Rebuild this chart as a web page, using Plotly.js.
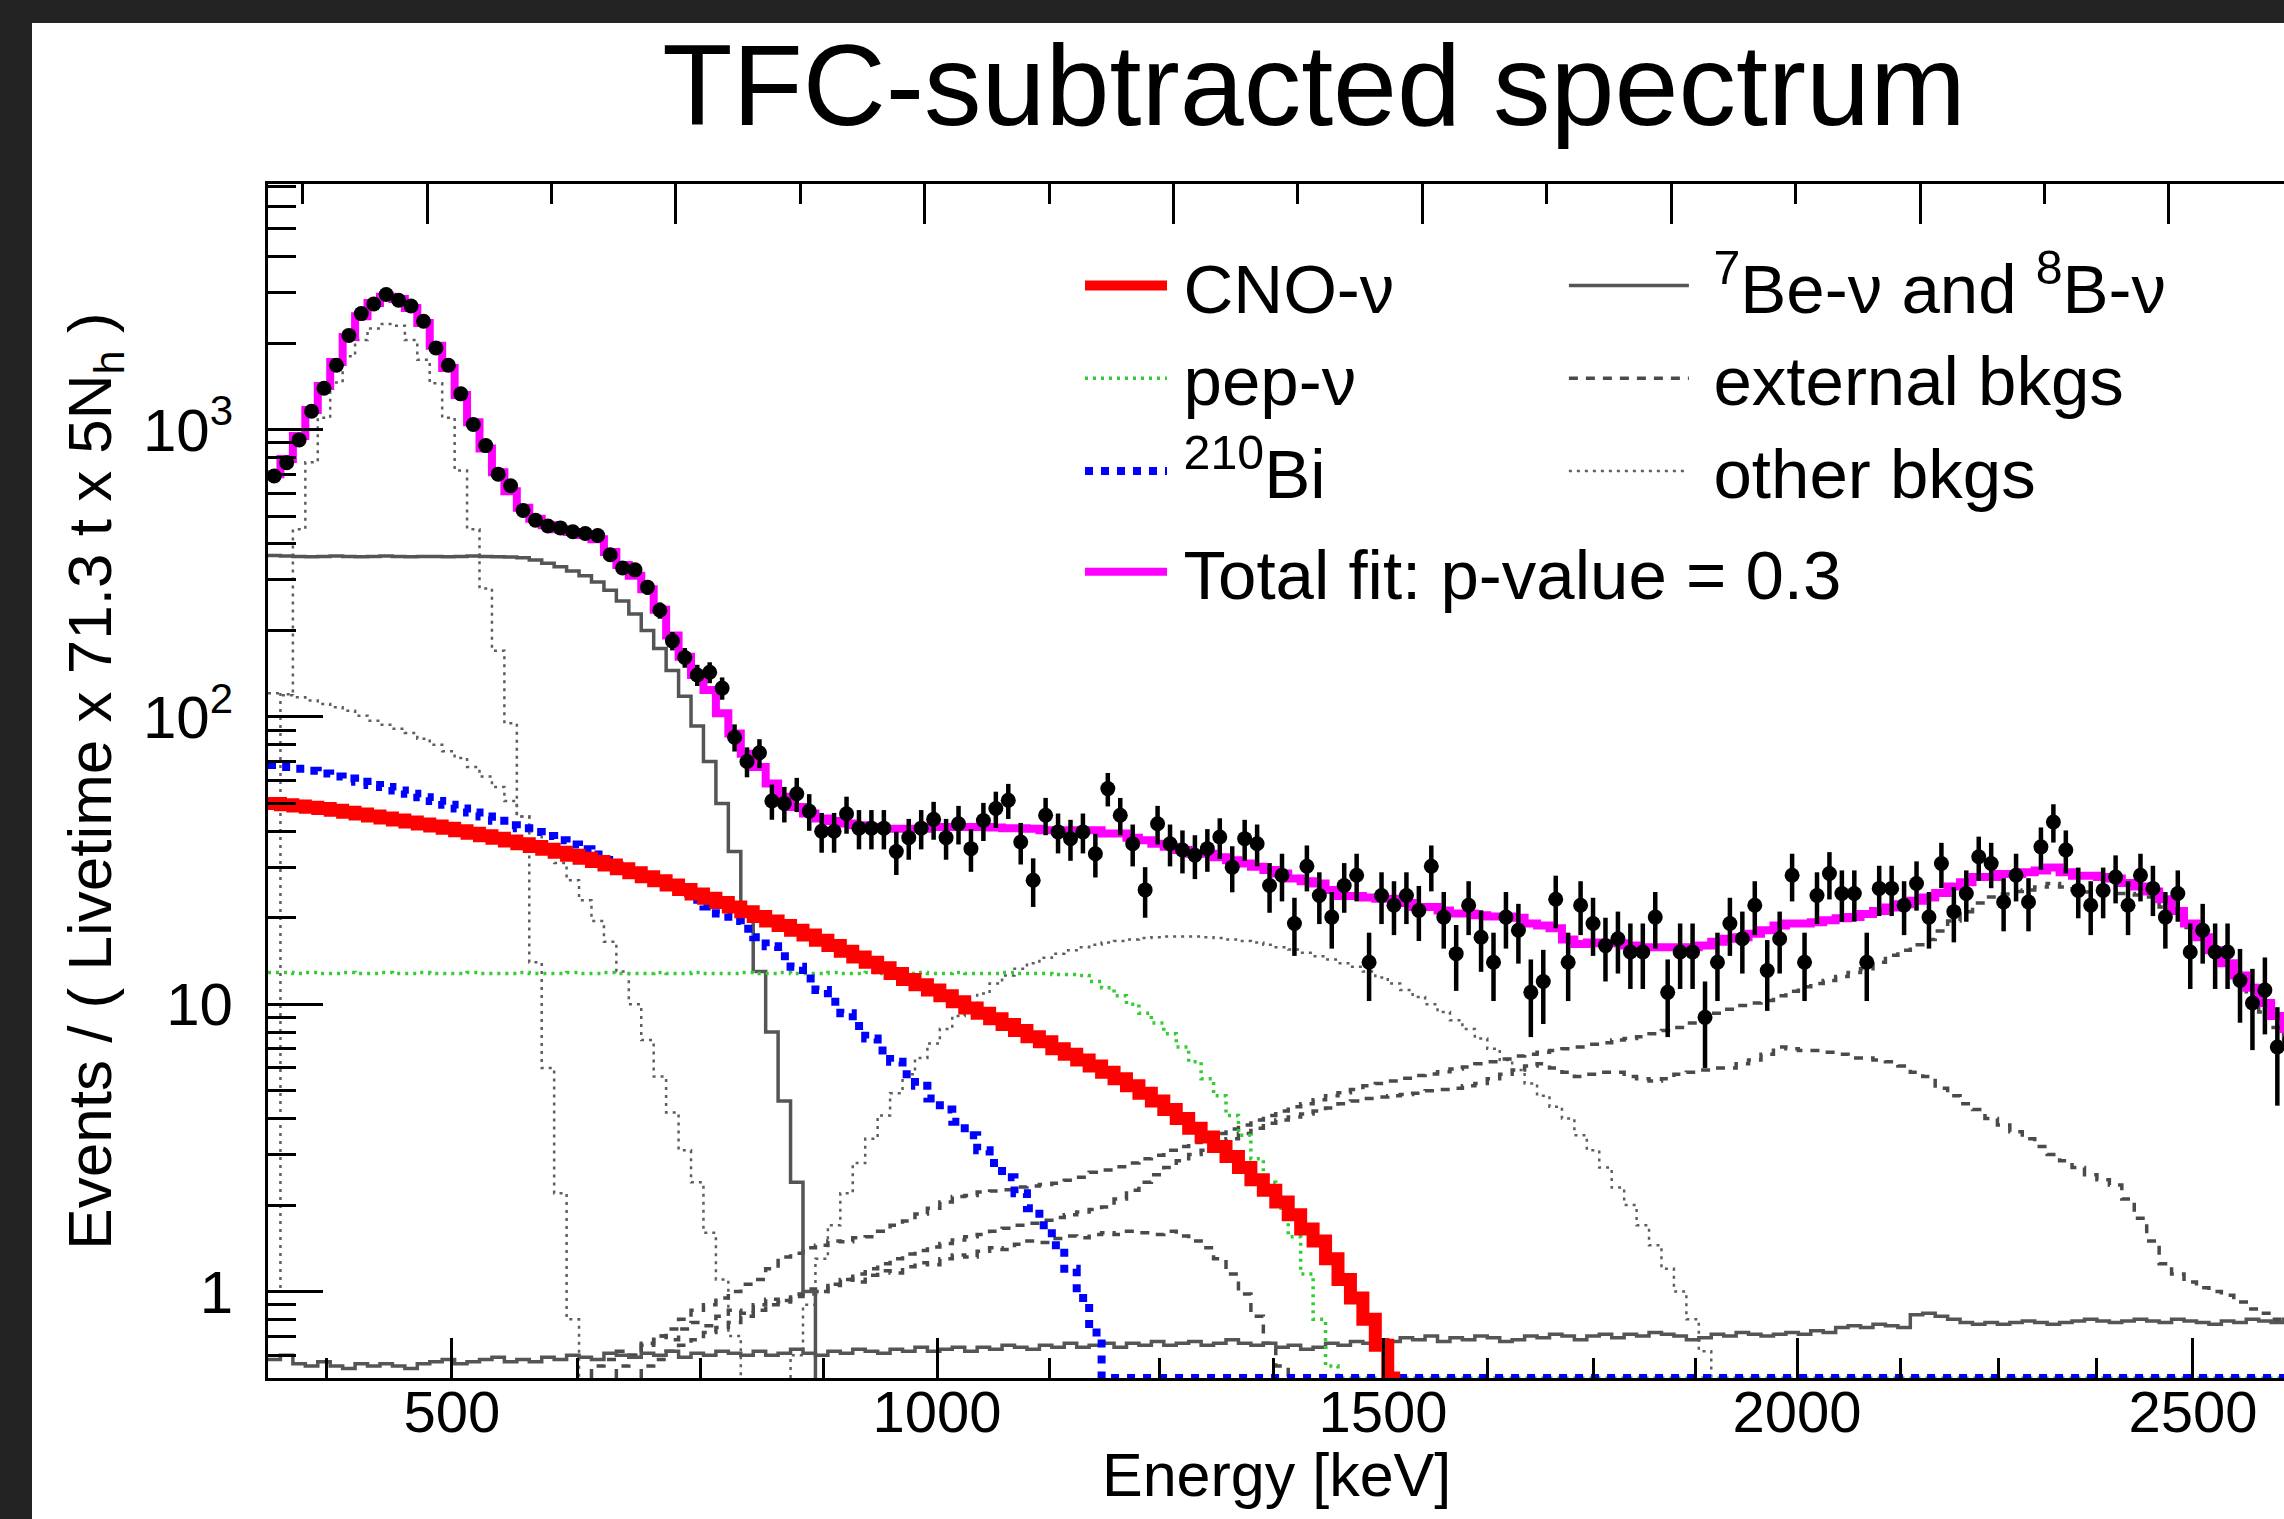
<!DOCTYPE html>
<html>
<head>
<meta charset="utf-8">
<script src="https://cdn.plot.ly/plotly-3.0.1.min.js"></script>
<style>
html,body{margin:0;padding:0;background:#232323;overflow:hidden;width:2284px;height:1519px;}
#panel{position:absolute;left:32px;top:23px;width:2288px;height:1496px;background:#ffffff;}
#chart{position:absolute;left:32px;top:0px;width:2288px;height:1519px;}
</style>
</head>
<body>
<div id="panel"></div>
<div id="chart"></div>
<script>
// ---------------- binning (Nh = number of hits, 5 Nh per bin) ----------------
const nhStart = 92;
const nhBinWidth = 5;
const nBins = 163;

// ---------------- energy axis (non-linear in Nh) ----------------
const energyTickLabels = ['500', '1000', '1500', '2000', '2500'];
const energyTickNh = [165.9, 360.9, 540.1, 706.5, 865.6];
const energyMinorNh = [115.7, 216.2, 266.0, 315.4, 405.9, 450.1, 495.9, 581.9, 624.5, 665.5, 747.9, 787.3, 827.0, 904.2];
const xTitle = 'Energy [keV]';

// ---------------- y axis ----------------
const yTickVals = [1, 10, 100, 1000];
const yTickText = ['1', '10', '10<sup>2</sup>', '10<sup>3</sup>'];
const yTitle = 'Events / ( Livetime x 71.3 t x 5N<sub>h</sub> )';

// ---------------- data (events per bin) ----------------
const dataCounts = [
 690, 767, 921, 1159, 1394, 1675, 2128, 2535, 2737, 2955,
 2820, 2694, 2385, 1923, 1675, 1332, 1042, 880, 700, 638,
 523, 484, 462, 455, 441, 435, 428, 367, 330, 325,
 283, 235, 184, 161, 140, 143, 126, 85, 70, 75,
 51, 50, 54, 47, 40, 40, 46, 41, 41, 41,
 34, 38, 41, 44, 38, 42.5, 34.8, 43.6, 48, 51.3,
 36.7, 27, 45.5, 39.8, 37.7, 39.8, 33.4, 56.3, 45.5, 36.2,
 25, 42.5, 36.2, 34.4, 33, 34.8, 38.2, 30, 37.7, 36.2,
 25.9, 28.1, 19.1, 30.2, 23.9, 20.1, 25.9, 28.1, 14, 23.9,
 22.1, 23.9, 21.2, 30.2, 20.1, 15, 22.1, 17.1, 14, 20.1,
 18.1, 11, 12, 23.2, 14, 22.1, 19.1, 16, 16.9, 15.2,
 15.2, 20.1, 11, 15.2, 15.2, 9, 14, 19.1, 16.9, 22.1,
 13.1, 16.9, 28.1, 14, 23.9, 28.5, 24.3, 24.3, 14, 25.3,
 25.3, 22.1, 26.3, 20.1, 30.9, 21, 24.3, 32.6, 30.9, 22.7,
 28.1, 22.7, 35.3, 43.1, 34.4, 24.9, 22.1, 24.9, 27.7, 22.1,
 28.1, 25.3, 20.1, 24.3, 15.2, 18.1, 15.2, 15.2, 12.1, 10.1,
 11.2, 7.1, 7.5
];

const totalFit = [
 700, 790, 950, 1170, 1420, 1720, 2100, 2480, 2760, 2900,
 2850, 2650, 2350, 1960, 1640, 1320, 1060, 860, 710, 610,
 535, 490, 465, 450, 440, 430, 415, 375, 338, 310,
 278, 236, 192, 162, 140, 124, 103, 87.5, 74.5, 67,
 58.6, 52.7, 48.6, 46.1, 44.3, 43.4, 42.6, 42, 41.4, 40.8,
 40.8, 40.8, 40.8, 41.4, 41.4, 41.4, 41.4, 41.4, 41.2, 41,
 41, 40.8, 40.3, 40.3, 40.3, 40.3, 40.3, 39.3, 39.3, 38,
 37.2, 36.2, 35.3, 34.4, 33.4, 33.4, 32.5, 31.7, 30.9, 30.1,
 29.3, 28.5, 27.4, 26.8, 26.3, 25, 23.8, 23.8, 23.5, 23.3,
 23.3, 22.5, 21.8, 21.8, 21.2, 20.7, 20.7, 20.4, 20.2, 20.2,
 20, 19.1, 18.8, 18.4, 16.8, 16.2, 16.4, 16.3, 16.3, 16,
 15.8, 15.8, 15.8, 15.8, 15.8, 16, 16.5, 16.9, 17.1, 17.6,
 18.1, 18.8, 19.1, 19.1, 19.3, 19.6, 19.9, 20.1, 20.6, 21.1,
 21.7, 22.3, 22.9, 23.5, 24.4, 25.7, 26.6, 27.7, 27.7, 28.4,
 28.4, 28.8, 29.2, 29.9, 28.8, 28, 28, 27.7, 27.4, 26.4,
 25.7, 24.7, 23.2, 21.1, 19.1, 17.1, 15.4, 13.9, 12.6, 11.4,
 10.1, 9.1, 8.2
];

// CNO-nu, bins 0..90
const cnoNu = [
 50, 49.5, 49, 48.5, 48, 47.3, 46.6, 45.9, 45.2, 44.5,
 43.8, 43.1, 42.4, 41.7, 41, 40.2, 39.4, 38.6, 37.8, 37,
 36.2, 35.4, 34.6, 33.8, 33, 32.2, 31.4, 30.5, 29.6, 28.7,
 27.8, 26.9, 26, 25.1, 24.2, 23.4, 22.6, 21.8, 21, 20.2,
 19.5, 18.8, 18.1, 17.4, 16.7, 16, 15.3, 14.6, 14, 13.4,
 12.8, 12.2, 11.7, 11.2, 10.7, 10.2, 9.7, 9.3, 8.9, 8.5,
 8.1, 7.7, 7.4, 7, 6.7, 6.4, 6.1, 5.8, 5.5, 5.2,
 4.9, 4.6, 4.3, 4, 3.7, 3.45, 3.2, 2.95, 2.7, 2.45,
 2.25, 2.05, 1.85, 1.65, 1.5, 1.3, 1.1, 0.95, 0.8, 0.65,
 0.5
];

// pep-nu, bins 0..85
const pepNu = [
 12.9, 12.9, 12.8, 12.9, 12.8, 12.8, 12.9, 12.8, 12.8, 12.9,
 12.8, 12.8, 12.9, 12.8, 12.8, 12.8, 12.9, 12.8, 12.8, 12.8,
 12.9, 12.8, 12.8, 12.8, 12.9, 12.8, 12.8, 12.9, 12.8, 12.8,
 12.8, 12.9, 12.8, 12.8, 12.9, 12.8, 12.8, 12.8, 12.9, 12.8,
 12.8, 12.9, 12.8, 12.8, 12.8, 12.9, 12.8, 12.8, 12.9, 12.8,
 12.8, 12.8, 12.9, 12.8, 12.8, 12.9, 12.8, 12.8, 12.8, 12.9,
 12.8, 12.8, 12.8, 12.7, 12.7, 12.6, 12.0, 11.4, 10.7, 10.0,
 9.3, 8.6, 7.9, 7.1, 6.3, 5.5, 4.8, 4.1, 3.5, 2.9,
 2.4, 1.95, 1.55, 1.15, 0.8, 0.55
];

// 210Bi, bins 0..67
const bi210 = [
 68, 67, 66, 65, 63.5, 62, 61, 59.5, 58, 57,
 55.5, 54, 52.5, 51, 49.5, 48, 46.5, 45, 43.5, 42,
 41, 39.8, 38.5, 37.2, 36, 34.6, 33.2, 31.8, 30.4, 29.3,
 28.3, 27, 25.7, 24.4, 23.1, 21.9, 20.7, 19.5, 18.3, 17.1,
 15.9, 14.7, 13.5, 12.3, 11.2, 10.2, 9.3, 8.4, 7.6, 6.9,
 6.3, 5.7, 5.2, 4.7, 4.3, 3.9, 3.5, 3.1, 2.8, 2.5,
 2.2, 1.95, 1.7, 1.45, 1.2, 0.95, 0.72, 0.5
];

// 7Be-nu, bins 0..43
const be7Nu = [
 365, 363, 362, 361, 362, 363, 362, 361, 362, 363,
 362, 361, 362, 362, 361, 362, 363, 362, 361, 360,
 358, 352, 343, 333, 322, 310, 295, 276, 253, 228,
 200, 173, 145, 118, 93, 70, 50, 34, 21, 13,
 8, 4.6, 2.4, 1.0
];

// 8B-nu, bins 0..162
const b8Nu = [
 0.58, 0.60, 0.56, 0.55, 0.57, 0.55, 0.54, 0.56, 0.55, 0.56,
 0.55, 0.54, 0.56, 0.57, 0.58, 0.56, 0.57, 0.58, 0.59, 0.57,
 0.58, 0.57, 0.59, 0.58, 0.60, 0.59, 0.58, 0.61, 0.60, 0.59,
 0.61, 0.60, 0.62, 0.59, 0.61, 0.60, 0.62, 0.61, 0.60, 0.62,
 0.60, 0.61, 0.63, 0.61, 0.60, 0.62, 0.61, 0.63, 0.62, 0.61,
 0.63, 0.62, 0.64, 0.62, 0.63, 0.64, 0.62, 0.64, 0.63, 0.65,
 0.64, 0.63, 0.65, 0.64, 0.66, 0.64, 0.65, 0.66, 0.64, 0.66,
 0.65, 0.67, 0.65, 0.66, 0.67, 0.65, 0.66, 0.68, 0.66, 0.65,
 0.66, 0.64, 0.65, 0.63, 0.64, 0.66, 0.65, 0.67, 0.66, 0.68,
 0.67, 0.69, 0.68, 0.70, 0.67, 0.69, 0.68, 0.70, 0.69, 0.67,
 0.68, 0.70, 0.69, 0.71, 0.70, 0.68, 0.70, 0.71, 0.69, 0.71,
 0.70, 0.72, 0.71, 0.70, 0.68, 0.69, 0.71, 0.70, 0.72, 0.71,
 0.70, 0.71, 0.72, 0.71, 0.73, 0.72, 0.75, 0.76, 0.75, 0.77,
 0.76, 0.75, 0.83, 0.84, 0.82, 0.80, 0.78, 0.77, 0.78, 0.77,
 0.78, 0.79, 0.78, 0.77, 0.78, 0.79, 0.80, 0.79, 0.78, 0.79,
 0.80, 0.79, 0.78, 0.80, 0.79, 0.78, 0.77, 0.79, 0.78, 0.80,
 0.79, 0.78, 0.80
];

// other backgrounds
const po210 = [
 1.0, 120, 450, 770, 1100, 1460, 1800, 2050, 2250, 2330,
 2300, 2050, 1750, 1450, 1100, 720, 450, 280, 170, 95,
 45, 14, 6, 2.2, 0.8
];
const kr85 = [
 121, 119, 117, 114, 111, 108, 105, 101, 97, 94,
 91, 88, 84, 80, 76, 72, 67, 62, 57, 51,
 45, 40, 35, 31, 27, 23, 19.5, 16.5, 13, 10,
 7.5, 5.6, 4.2, 3.1, 2.4, 1.6, 1.1, 0.7
];
const c11StartBin = 42;
const c11 = [
 0.6, 0.9, 1.3, 1.7, 2.2, 2.8, 3.4, 4.1, 4.9, 5.7,
 6.5, 7.3, 8.2, 9.1, 10, 10.9, 11.8, 12.6, 13.3, 13.9,
 14.5, 15, 15.4, 15.8, 16.1, 16.4, 16.6, 16.8, 17, 17.1,
 17.2, 17.2, 17.2, 17.1, 17, 16.8, 16.6, 16.4, 16.1, 15.8,
 15.5, 15.1, 14.7, 14.3, 13.9, 13.5, 13, 12.4, 11.8, 11.2,
 10.6, 10, 9.4, 8.8, 8.2, 7.6, 7, 6.4, 5.9, 5.3,
 4.8, 4.4, 4, 3.5, 3.1, 2.7, 2.3, 2, 1.7, 1.45,
 1.2, 1, 0.8, 0.62
];

// external backgrounds
const extTlStartBin = 28;
const extTl208 = [
 0.55, 0.6, 0.65, 0.7, 0.74, 0.8, 0.86, 0.9, 0.95, 1.0,
 1.06, 1.1, 1.2, 1.32, 1.36, 1.42, 1.45, 1.5, 1.49, 1.54,
 1.55, 1.62, 1.7, 1.76, 1.86, 1.95, 2.05, 2.14, 2.16, 2.22,
 2.24, 2.26, 2.31, 2.33, 2.36, 2.38, 2.44, 2.5, 2.6, 2.65,
 2.72, 2.8, 2.9, 2.98, 3.1, 3.2, 3.3, 3.42, 3.55, 3.68,
 3.8, 3.95, 4.1, 4.25, 4.4, 4.5, 4.65, 4.8, 4.92, 5.05,
 5.2, 5.3, 5.4, 5.52, 5.65, 5.72, 5.82, 5.95, 6.05, 6.2,
 6.3, 6.45, 6.6, 6.7, 6.8, 6.9, 7.0, 7.1, 7.25, 7.35,
 7.5, 7.6, 7.7, 7.9, 8.1, 8.3, 8.6, 9.0, 9.3, 9.6,
 9.9, 10.1, 10.3, 10.7, 11.1, 11.5, 11.8, 12.1, 12.5, 12.9,
 13.3, 14.0, 14.8, 15.4, 16.1, 16.8, 18.0, 19.5, 21.0, 22.5,
 23.6, 24.2, 24.7, 25.0, 25.6, 26.3, 25.6, 25.0, 24.6, 24.3,
 24.3, 24.3, 24.0, 23.6, 21.8, 20.1, 18.5, 17.1, 15.4, 13.9,
 12.2, 10.6, 9.4, 8.3, 7.3
];
const extBiStartBin = 30;
const extBi214 = [
 0.55, 0.58, 0.62, 0.65, 0.68, 0.72, 0.75, 0.78, 0.82, 0.86,
 0.9, 0.93, 0.96, 0.98, 1.0, 1.05, 1.1, 1.15, 1.2, 1.25,
 1.3, 1.35, 1.39, 1.43, 1.47, 1.51, 1.55, 1.58, 1.62, 1.66,
 1.7, 1.73, 1.77, 1.81, 1.85, 1.89, 1.93, 1.97, 2.1, 2.25,
 2.4, 2.55, 2.7, 2.85, 3.0, 3.1, 3.25, 3.4, 3.55, 3.7,
 3.85, 3.95, 4.05, 4.15, 4.25, 4.35, 4.5, 4.6, 4.7, 4.75,
 4.8, 4.85, 4.9, 5.0, 5.05, 5.1, 5.2, 5.3, 5.5, 5.7,
 5.9, 6.1, 6.2, 6.0, 5.8, 5.6, 5.7, 5.8, 5.8, 5.6,
 5.5, 5.4, 5.5, 5.7, 5.8, 5.9, 6.0, 6.0, 6.2, 6.4,
 6.7, 7.1, 7.0, 6.9, 6.9, 6.8, 6.7, 6.5, 6.5, 6.4,
 6.3, 6.1, 5.8, 5.6, 5.1, 4.8, 4.5, 4.3, 4.0, 3.8,
 3.6, 3.4, 3.2, 3.0, 2.85, 2.7, 2.55, 2.45, 2.35, 2.1,
 1.8, 1.5, 1.25, 1.15, 1.08, 1.03, 1.0, 0.97, 0.92, 0.87,
 0.84, 0.8, 0.77
];
const extKStartBin = 26;
const extK40 = [
 0.55, 0.58, 0.62, 0.6, 0.66, 0.7, 0.68, 0.74, 0.78, 0.76,
 0.82, 0.86, 0.84, 0.9, 0.94, 0.92, 0.98, 1.02, 1.0, 1.06,
 1.1, 1.08, 1.14, 1.18, 1.16, 1.22, 1.26, 1.24, 1.3, 1.34,
 1.32, 1.38, 1.42, 1.4, 1.46, 1.5, 1.48, 1.53, 1.56, 1.54,
 1.58, 1.6, 1.58, 1.62, 1.6, 1.58, 1.62, 1.56, 1.5, 1.42,
 1.3, 1.15, 0.98, 0.82, 0.66, 0.55
];

// ---------------- helpers ----------------
const yRangeLog = [Math.log10(0.5), 3.855];
const yFloor = Math.pow(10, yRangeLog[0]);   // empty bins sit on the frame, as ROOT draws them
const edge = b => nhStart + b * nhBinWidth;

function hist(values, startBin, floorToBin) {
  const x = [], y = [];
  if (startBin > 0) { x.push(edge(startBin)); y.push(yFloor); }
  values.forEach((v, i) => { x.push(edge(startBin + i)); y.push(Math.max(v, yFloor)); });
  const end = startBin + values.length;
  const last = Math.max(values[values.length - 1], yFloor);
  if (floorToBin) {
    x.push(edge(end)); y.push(yFloor);
    x.push(edge(floorToBin)); y.push(yFloor);
  } else if (end < nBins) {
    x.push(edge(end)); y.push(last);
    x.push(edge(end)); y.push(yFloor);
  } else {
    x.push(edge(end)); y.push(last);
  }
  return {x, y};
}

const FONT = 'Liberation Sans, Arial, Helvetica, sans-serif';
const GRAY_SOLID = '#555555';
const GRAY_DASH = '#4a4a4a';
const GRAY_DOT = '#5e5e5e';
const PAD1 = '\u200a\u200a';       // small lead-in so legend text sits where ROOT put it
const PAD2 = '\u2009\u200a';

function histTrace(h, line, extra) {
  return Object.assign({
    type: 'scatter', mode: 'lines', x: h.x, y: h.y,
    line: Object.assign({shape: 'hv'}, line),
    hoverinfo: 'skip', showlegend: false
  }, extra || {});
}

const traces = [];

// other bkgs (dotted)
const dotLine = {color: GRAY_DOT, width: 2.5, dash: '3px,5px'};
traces.push(histTrace(hist(po210, 0), dotLine, {name: PAD2 + 'other bkgs', legendgroup: 'other', legend: 'legend2', showlegend: true, legendrank: 3}));
traces.push(histTrace(hist(kr85, 0), dotLine, {legendgroup: 'other'}));
traces.push(histTrace(hist(c11, c11StartBin), dotLine, {legendgroup: 'other'}));

// external bkgs (dashed)
const dashLine = {color: GRAY_DASH, width: 3.5, dash: '9px,8px'};
traces.push(histTrace(hist(extTl208, extTlStartBin), dashLine, {name: PAD2 + 'external bkgs', legendgroup: 'ext', legend: 'legend2', showlegend: true, legendrank: 2}));
traces.push(histTrace(hist(extBi214, extBiStartBin), dashLine, {legendgroup: 'ext'}));
traces.push(histTrace(hist(extK40, extKStartBin), dashLine, {legendgroup: 'ext'}));

// 7Be and 8B (solid gray)
const solidGray = {color: GRAY_SOLID, width: 3.5};
traces.push(histTrace(hist(be7Nu, 0), solidGray, {name: PAD2 + '<sup>7</sup>Be-\u03bd and <sup>8</sup>B-\u03bd', legendgroup: 'be', legend: 'legend2', showlegend: true, legendrank: 1}));
traces.push(histTrace(hist(b8Nu, 0), solidGray, {legendgroup: 'be'}));

// pep
traces.push(histTrace(hist(pepNu, 0, nBins), {color: '#33cc33', width: 3.5, dash: '3px,5px'}, {name: PAD1 + 'pep-\u03bd', legend: 'legend', showlegend: true, legendrank: 2}));
// 210Bi
traces.push(histTrace(hist(bi210, 0, nBins), {color: '#0000ff', width: 8, dash: '8px,8px'}, {name: PAD1 + '<sup>210</sup>Bi', legend: 'legend', showlegend: true, legendrank: 3}));
// CNO
traces.push(histTrace(hist(cnoNu, 0), {color: '#ff0000', width: 13}, {name: PAD1 + 'CNO-\u03bd', legend: 'legend', showlegend: true, legendrank: 1}));
// total fit
traces.push(histTrace(hist(totalFit, 0), {color: '#ff00ff', width: 8}, {name: PAD1 + 'Total fit: p-value = 0.3', legend: 'legend3', showlegend: true}));

// data points
traces.push({
  type: 'scatter', mode: 'markers',
  x: dataCounts.map((v, i) => edge(i) + nhBinWidth / 2),
  y: dataCounts,
  marker: {color: '#000000', size: 15},
  error_y: {type: 'sqrt', color: '#000000', thickness: 4.5, width: 0},
  hoverinfo: 'skip', showlegend: false
});

// helper trace so that the top (linear Nh) axis exists
traces.push({type: 'scatter', mode: 'markers', x: [nhStart], y: [1], xaxis: 'x2',
  marker: {opacity: 0}, hoverinfo: 'skip', showlegend: false});

const yMinor = [];
for (let d = -1; d <= 3; d++) for (let m = 2; m <= 9; m++) yMinor.push(m * Math.pow(10, d));

const legendCommon = {
  font: {family: FONT, size: 69, color: '#000000'},
  bgcolor: 'rgba(0,0,0,0)', borderwidth: 0,
  xanchor: 'left', yanchor: 'top', orientation: 'v',
  traceorder: 'normal', tracegroupgap: 0
};

const layout = {
  width: 2288, height: 1519,
  margin: {l: 236, r: 24, t: 184, b: 141},
  paper_bgcolor: 'rgba(0,0,0,0)', plot_bgcolor: '#ffffff',
  showlegend: true,
  font: {family: FONT, color: '#000000'},
  title: {
    text: 'TFC-subtracted spectrum',
    font: {family: FONT, size: 115, color: '#000000'},
    x: 0.5158, xref: 'paper', xanchor: 'center',
    y: 0.944, yref: 'container', yanchor: 'middle'
  },
  xaxis: {
    type: 'linear', range: [nhStart, edge(nBins)],
    showline: true, linecolor: '#000000', linewidth: 3, mirror: false,
    ticks: 'inside', ticklen: 40, tickwidth: 3, tickcolor: '#000000',
    tickmode: 'array', tickvals: energyTickNh, ticktext: energyTickLabels,
    tickfont: {family: FONT, size: 58, color: '#000000'},
    ticklabelstandoff: -19,
    minor: {tickmode: 'array', tickvals: energyMinorNh, ticks: 'inside', ticklen: 20, tickwidth: 3, tickcolor: '#000000', showgrid: false},
    showgrid: false, zeroline: false
  },
  xaxis2: {
    overlaying: 'x', side: 'top', type: 'linear', range: [nhStart, edge(nBins)],
    showline: true, linecolor: '#000000', linewidth: 3,
    ticks: 'inside', ticklen: 40, tickwidth: 3, tickcolor: '#000000',
    tickmode: 'linear', tick0: 155.9, dtick: 100, showticklabels: false,
    minor: {dtick: 50, tick0: 105.9, ticks: 'inside', ticklen: 20, tickwidth: 3, tickcolor: '#000000', showgrid: false},
    showgrid: false, zeroline: false
  },
  yaxis: {
    type: 'log', range: yRangeLog,
    showline: true, linecolor: '#000000', linewidth: 3, mirror: false,
    ticks: 'inside', ticklen: 55, tickwidth: 3, tickcolor: '#000000',
    tickmode: 'array', tickvals: yTickVals, ticktext: yTickText,
    tickfont: {family: FONT, size: 60, color: '#000000'},
    ticklabelstandoff: 20,
    minor: {tickmode: 'array', tickvals: yMinor, ticks: 'inside', ticklen: 28, tickwidth: 3, tickcolor: '#000000', showgrid: false},
    showgrid: false, zeroline: false,
    title: {text: yTitle, font: {family: FONT, size: 62, color: '#000000'}, standoff: 12}
  },
  annotations: [{
    text: xTitle, showarrow: false,
    xref: 'paper', x: 0.4975, xanchor: 'center',
    yref: 'paper', y: -0.0812, yanchor: 'middle',
    font: {family: FONT, size: 61, color: '#000000'}
  }],
  legend: Object.assign({}, legendCommon, {x: 0.4004, y: 0.9579, itemwidth: 82}),
  legend2: Object.assign({}, legendCommon, {x: 0.639, y: 0.9579, itemwidth: 120}),
  legend3: Object.assign({}, legendCommon, {x: 0.4004, y: 0.7183, itemwidth: 82})
};

Plotly.newPlot('chart', traces, layout, {staticPlot: true, displayModeBar: false});
</script>
</body>
</html>
